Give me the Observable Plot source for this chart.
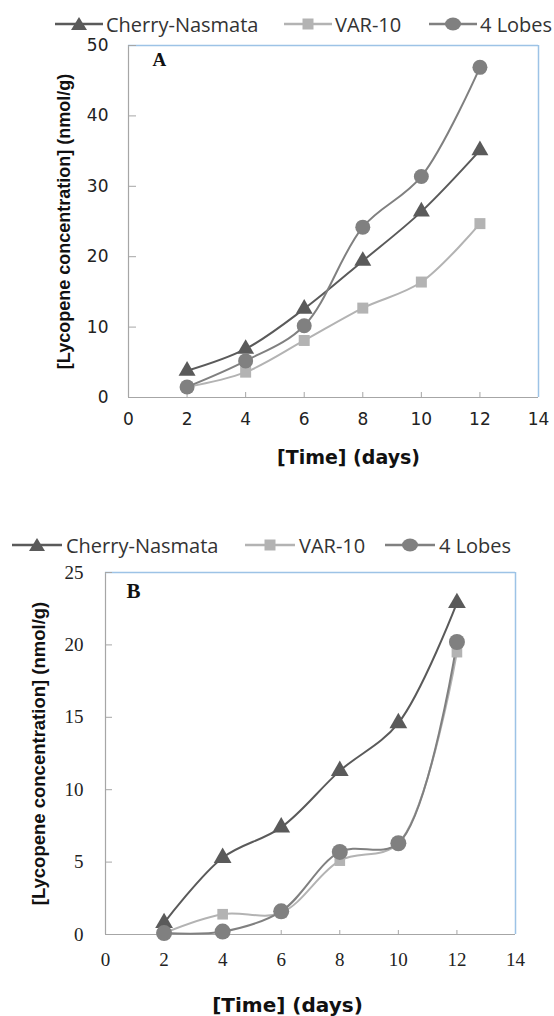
<!DOCTYPE html>
<html><head><meta charset="utf-8">
<script src="https://cdn.jsdelivr.net/npm/d3@7"></script>
<script src="https://cdn.jsdelivr.net/npm/@observablehq/plot@0.6"></script>
<style>
body{margin:0;background:#fff;}
#wrap{position:relative;width:554px;height:1016px;overflow:hidden;background:#fff;}
.panel{position:absolute;left:0;}
.legend{position:absolute;left:0;width:554px;height:30px;font-family:"Open Sans";font-size:20px;color:#333;z-index:2;}
.item{position:absolute;top:0;display:flex;align-items:center;height:30px;white-space:nowrap;}
.item svg{display:block;}
</style></head><body><div id="wrap"></div>
<script>
// ---- data ----
const days = [2, 4, 6, 8, 10, 12];
const seriesNames = ["Cherry-Nasmata", "VAR-10", "4 Lobes"];
const cherryA = [3.8, 6.9, 12.6, 19.4, 26.4, 35.1];
const var10A  = [1.5, 3.6, 8.1, 12.7, 16.4, 24.7];
const lobesA  = [1.5, 5.2, 10.2, 24.2, 31.4, 46.9];
const cherryB = [0.8, 5.3, 7.4, 11.3, 14.6, 22.9];
const var10B  = [0.1, 1.4, 1.5, 5.1, 6.3, 19.5];
const lobesB  = [0.1, 0.2, 1.6, 5.7, 6.3, 20.2];
const xTicks  = [0, 2, 4, 6, 8, 10, 12, 14];
const yTicksA = [0, 10, 20, 30, 40, 50];
const yTicksB = [0, 5, 10, 15, 20, 25];
const xLabel = "[Time] (days)";
const yLabel = "[Lycopene concentration] (nmol/g)";

const colors = {"Cherry-Nasmata": "#5a5a5a", "VAR-10": "#b3b3b3", "4 Lobes": "#808080"};
const symbols = {"Cherry-Nasmata": "triangle", "VAR-10": "square", "4 Lobes": "circle"};
const axisGray = "#a6a6a6";
const frameBlue = "#9dc3e6";

const wrap = document.getElementById("wrap");

function rows(values, name) {
  return days.map((d, i) => ({day: d, value: values[i], series: name}));
}

function makePanel(cfg) {
  const sets = [rows(cfg.cherry, seriesNames[0]), rows(cfg.var10, seriesNames[1]), rows(cfg.lobes, seriesNames[2])];
  const marks = [
    Plot.ruleX([xTicks[0]], {stroke: axisGray, strokeWidth: 1.2}),
    Plot.ruleY([cfg.yTicks[0]], {stroke: axisGray, strokeWidth: 1.2}),
    Plot.ruleY([cfg.yTicks[cfg.yTicks.length - 1]], {stroke: frameBlue, strokeWidth: 1.5}),
    Plot.ruleX([xTicks[xTicks.length - 1]], {stroke: frameBlue, strokeWidth: 1.5}),
    Plot.axisY({ticks: cfg.yTicks, tickSize: 0, tickPadding: cfg.yPad, label: null, fontSize: cfg.tickSize, fontFamily: cfg.tickFont, fill: "#222"}),
    Plot.axisY({ticks: cfg.yTicks, tickSize: cfg.yTickLen, dx: cfg.yTickLen, tickFormat: () => "", label: null, stroke: axisGray}),
    Plot.axisX({ticks: xTicks, tickSize: 0, tickPadding: cfg.xPad, label: null, fontSize: cfg.tickSize, fontFamily: cfg.tickFont, fill: "#222"}),
    Plot.axisX({ticks: xTicks.slice(1, -1), tickSize: cfg.xTickLen, dy: -cfg.xTickLen, tickFormat: () => "", label: null, stroke: axisGray}),
  ];
  sets.forEach((s, i) => {
    marks.push(Plot.line(s, {x: "day", y: "value", stroke: colors[seriesNames[i]], strokeWidth: 2, curve: "catmull-rom"}));
  });
  sets.forEach((s, i) => {
    marks.push(Plot.dot(s, {x: "day", y: "value", symbol: symbols[seriesNames[i]], r: cfg.r[i], fill: colors[seriesNames[i]], stroke: "none"}));
  });
  marks.push(Plot.text([cfg.tag], {frameAnchor: "top-left", dx: cfg.tagDx, dy: cfg.tagDy, textAnchor: "start", lineAnchor: "middle",
    fontFamily: "Liberation Serif", fontWeight: "bold", fontSize: cfg.tagSize, fill: "#111"}));
  marks.push(Plot.text([xLabel], {frameAnchor: "bottom", dx: cfg.xlDx, dy: cfg.xlDy, textAnchor: "middle", lineAnchor: "middle",
    fontFamily: "DejaVu Sans", fontWeight: "bold", fontSize: cfg.xlSize, fill: "#111"}));
  marks.push(Plot.text([yLabel], {frameAnchor: "left", dx: cfg.ylDx, rotate: -90, textAnchor: "middle", lineAnchor: "middle",
    fontFamily: "Liberation Sans", fontWeight: "bold", fontSize: cfg.ylSize, fill: "#111"}));

  const svg = Plot.plot({
    width: 554, height: cfg.height,
    marginLeft: cfg.ml, marginRight: cfg.mr, marginTop: cfg.mt, marginBottom: cfg.mb,
    x: {domain: [xTicks[0], xTicks[xTicks.length - 1]]},
    y: {domain: [cfg.yTicks[0], cfg.yTicks[cfg.yTicks.length - 1]]},
    style: {fontFamily: "Liberation Sans", background: "transparent", overflow: "visible"},
    marks
  });
  const div = document.createElement("div");
  div.className = "panel";
  div.style.top = cfg.top + "px";
  div.appendChild(svg);
  wrap.appendChild(div);
}

function legendSymbol(name, w) {
  const c = colors[name], m = w / 2, y = 15;
  let mk;
  if (symbols[name] === "triangle") mk = `<polygon points="${m - 8},${y + 6} ${m + 8},${y + 6} ${m},${y - 7}" fill="${c}"/>`;
  else if (symbols[name] === "square") mk = `<rect x="${m - 5.5}" y="${y - 5.5}" width="11" height="11" fill="${c}"/>`;
  else mk = `<ellipse cx="${m}" cy="${y}" rx="8" ry="6.5" fill="${c}"/>`;
  return `<svg width="${w}" height="30"><line x1="0" x2="${w}" y1="${y}" y2="${y}" stroke="${c}" stroke-width="2.5"/>${mk}</svg>`;
}

function makeLegend(top, lefts, w, gap) {
  const lg = document.createElement("div");
  lg.className = "legend";
  lg.style.top = top + "px";
  lg.innerHTML = seriesNames.map((n, i) =>
    `<div class="item" style="left:${lefts[i]}px">${legendSymbol(n, w)}<span style="margin-left:${gap}px">${n}</span></div>`).join("");
  wrap.appendChild(lg);
}

makePanel({top: 0, height: 480, ml: 128, mr: 16, mt: 45, mb: 83,
  cherry: cherryA, var10: var10A, lobes: lobesA, yTicks: yTicksA,
  tickFont: "DejaVu Sans", tickSize: 17, yPad: 20, xPad: 15, yTickLen: 8, xTickLen: 5,
  r: [6.3, 6.2, 7.5], tag: "A", tagDx: 24, tagDy: 14, tagSize: 19,
  xlDx: 15, xlDy: 60, xlSize: 19, ylDx: -64, ylSize: 18});

makePanel({top: 480, height: 536, ml: 105, mr: 39, mt: 92, mb: 82,
  cherry: cherryB, var10: var10B, lobes: lobesB, yTicks: yTicksB,
  tickFont: "Liberation Serif", tickSize: 19, yPad: 22, xPad: 18, yTickLen: 7, xTickLen: 4,
  r: [6.6, 6, 8], tag: "B", tagDx: 21, tagDy: 19, tagSize: 21,
  xlDx: -23, xlDy: 71, xlSize: 20, ylDx: -66, ylSize: 18.5});

makeLegend(9, [55, 284, 429], 48, 3);
makeLegend(530, [12, 245, 385], 50, 4);
</script></body></html>
